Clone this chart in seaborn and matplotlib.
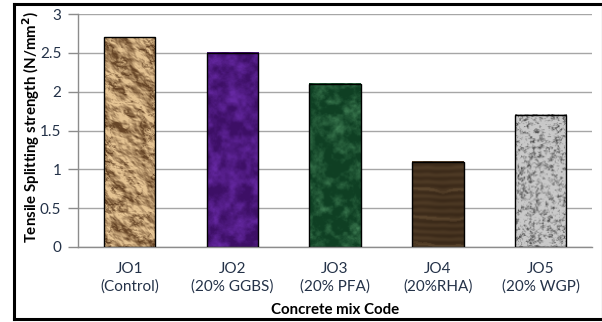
import numpy as np
import pandas as pd
import matplotlib
matplotlib.use("Agg")
import matplotlib.pyplot as plt
from matplotlib.lines import Line2D
import seaborn as sns

# Data
codes = ["JO1", "JO2", "JO3", "JO4", "JO5"]
mixes = ["(Control)", "(20% GGBS)", "(20% PFA)", "(20%RHA)", "(20% WGP)"]
strength = [2.7, 2.5, 2.1, 1.1, 1.7]
tick_labels = [f"{c}\n{m}" for c, m in zip(codes, mixes)]

df = pd.DataFrame({"code": codes, "strength": strength})

sns.set_theme(style="white")
plt.rcParams["font.family"] = ["Lato", "DejaVu Sans"]

TEXT = "#243248"


# ---- deterministic procedural textures for the bar fills ----
def _hash(i, j, seed):
    v = np.sin(i * 12.9898 + j * 78.233 + seed * 37.719) * 43758.5453
    return v - np.floor(v)


def value_noise(h, w, cell, seed):
    gy = int(np.ceil(h / cell)) + 2
    gx = int(np.ceil(w / cell)) + 2
    J, I = np.meshgrid(np.arange(gx), np.arange(gy))
    g = _hash(I.astype(float), J.astype(float), seed)
    ys = np.arange(h) / cell
    xs = np.arange(w) / cell
    y0 = np.floor(ys).astype(int)
    x0 = np.floor(xs).astype(int)
    fy = ys - y0
    fx = xs - x0
    fy = fy * fy * (3 - 2 * fy)
    fx = fx * fx * (3 - 2 * fx)
    a = g[np.ix_(y0, x0)]
    b = g[np.ix_(y0, x0 + 1)]
    c = g[np.ix_(y0 + 1, x0)]
    d = g[np.ix_(y0 + 1, x0 + 1)]
    FX = fx[None, :]
    FY = fy[:, None]
    top = a + (b - a) * FX
    bot = c + (d - c) * FX
    return top + (bot - top) * FY


def fbm(h, w, cell, seed, octaves=4):
    out = np.zeros((h, w))
    amp, tot = 1.0, 0.0
    for k in range(octaves):
        out += amp * value_noise(h, w, max(cell / 2 ** k, 1.0), seed + k * 11)
        tot += amp
        amp *= 0.5
    return out / tot


def blend(c0, c1, t):
    c0 = np.array(c0)[None, None, :]
    c1 = np.array(c1)[None, None, :]
    t = np.clip(t, 0, 1)[:, :, None]
    return c0 + (c1 - c0) * t


def tex_paper(h, w):
    n = fbm(h, w, 14, 3, 5)
    gy, gx = np.gradient(n)
    shade = 0.62 + 11.0 * (gx * 0.6 - gy * 0.8)
    crease = np.abs(n - 0.5)
    shade -= 0.3 * (crease < 0.025)
    return blend((0.40, 0.27, 0.15), (0.90, 0.77, 0.58), shade)


def tex_purple(h, w):
    n = fbm(h, w, 8, 7, 4)
    return blend((0.24, 0.06, 0.40), (0.40, 0.16, 0.64), (n - 0.3) * 1.8)


def tex_marble(h, w):
    n = fbm(h, w, 9, 21, 5)
    m = fbm(h, w, 4, 91, 3)
    t = (n - 0.38) * 1.3 + (m - 0.5) * 0.6
    return blend((0.06, 0.25, 0.14), (0.30, 0.56, 0.38), t)


def tex_wood(h, w):
    n = fbm(h, w, 30, 41, 3)
    Y, X = np.mgrid[0:h, 0:w]
    ring = np.sin(Y * 0.9 + n * 4.0)
    t = 0.22 + 0.07 * ring + 0.12 * (np.sin(Y * 0.23 + n * 3.0) > 0.96) + 0.1 * (n - 0.5)
    return blend((0.17, 0.11, 0.06), (0.62, 0.50, 0.34), t)


def tex_granite(h, w):
    n1 = fbm(h, w, 3, 55, 3)
    n2 = fbm(h, w, 1.5, 77, 2)
    v = 0.6 * n1 + 0.4 * n2
    t = 0.85 - 2.8 * np.clip(0.52 - v, 0, 1)
    return blend((0.28, 0.28, 0.28), (0.88, 0.88, 0.88), t)


textures = [tex_paper, tex_purple, tex_marble, tex_wood, tex_granite]

fig = plt.figure(figsize=(6.02, 3.22), dpi=100)
ax = fig.add_axes([78 / 602, 1 - 247 / 322, (592 - 78) / 602, (247 - 14) / 322])

sns.barplot(data=df, x="code", y="strength", ax=ax, width=0.5,
            color="white", edgecolor="black", linewidth=1.0, zorder=3)

ax.set_ylim(0, 3)
ax.set_xlim(-0.5, len(codes) - 0.5)
xl, yl = ax.get_xlim(), ax.get_ylim()

for patch, tex in zip(ax.patches, textures):
    x0, y0 = patch.get_x(), patch.get_y()
    w, h = patch.get_width(), patch.get_height()
    hp = max(int(round(h / 3 * 233)), 4)
    wp = max(int(round(w / 5 * 514)), 4)
    img = tex(hp, wp)
    ax.imshow(img, extent=[x0, x0 + w, y0, y0 + h], origin="upper",
              aspect="auto", zorder=2.5, interpolation="bilinear")
    patch.set_facecolor("none")
    patch.set_zorder(4)

ax.set_xlim(xl)
ax.set_ylim(yl)
ax.set_aspect("auto")

ax.set_yticks([0, 0.5, 1, 1.5, 2, 2.5, 3])
ax.set_yticklabels(["0", "0.5", "1", "1.5", "2", "2.5", "3"])
ax.set_xticks(range(len(codes)))
ax.set_xticklabels(tick_labels, linespacing=1.3)
ax.tick_params(axis="both", labelsize=11, colors=TEXT)
ax.tick_params(axis="y", length=7, width=1, color="#8c8c8c", pad=5, left=True)
ax.tick_params(axis="x", length=0, pad=11)

# category separator ticks on the x axis
ax.set_xticks(np.arange(-0.5, len(codes)), minor=True)
ax.tick_params(axis="x", which="minor", length=4, width=1, color="#8c8c8c")

ax.yaxis.grid(True, color="#a6a6a6", linewidth=1.0, zorder=0)
ax.set_axisbelow(True)
for side in ["top", "right"]:
    ax.spines[side].set_visible(False)
for side in ["left", "bottom"]:
    ax.spines[side].set_color("#8c8c8c")
    ax.spines[side].set_linewidth(1.0)

ax.set_xlabel("Concrete mix Code", fontsize=10.8, fontweight="bold",
              color="black", va="center")
ax.set_ylabel("Tensile Splitting strength (N/mm$^\\mathbf{2}$)", fontsize=10.8,
              fontweight="bold", color="black", va="center")
ax.xaxis.set_label_coords(0.5, (247 - 310) / 233)
ax.yaxis.set_label_coords((31 - 78) / 514, (247 - 127) / 233)

# outer frame
fx = lambda p: p / 602
fy = lambda p: 1 - p / 322
frame = dict(transform=fig.transFigure, color="black", solid_capstyle="projecting")
fig.add_artist(Line2D([fx(14), fx(14)], [fy(4), fy(318.5)], linewidth=2.2, **frame))
fig.add_artist(Line2D([fx(14), fx(601)], [fy(4), fy(4)], linewidth=2.2, **frame))
fig.add_artist(Line2D([fx(14), fx(601)], [fy(318.5), fy(318.5)], linewidth=2.2, **frame))
fig.add_artist(Line2D([fx(601.5), fx(601.5)], [fy(4), fy(318.5)], linewidth=0.8,
                      transform=fig.transFigure, color="#555555"))

fig.savefig("out.png", dpi=100)
